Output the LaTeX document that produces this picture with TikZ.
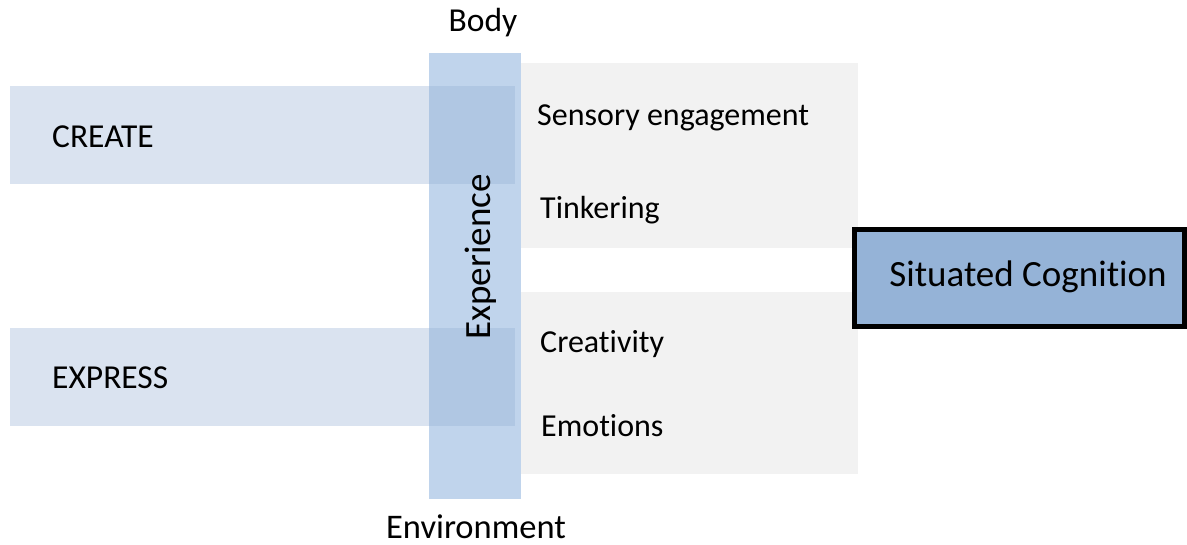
\documentclass[tikz,border=0pt]{standalone}
\usepackage{fontspec}
\setmainfont{Carlito}[RawFeature=-liga]
\usetikzlibrary{positioning}

\definecolor{expblue}{HTML}{C0D4EC}
\definecolor{barblue}{HTML}{95AFD4}
\definecolor{panelgray}{HTML}{F2F2F2}
\definecolor{cogblue}{HTML}{95B3D7}

\tikzset{
  box/.style={inner sep=0pt, outer sep=0pt, anchor=north west},
  panel/.style={box, fill=panelgray, minimum width=337pt},
  bar/.style={box, fill=barblue, fill opacity=0.35, minimum width=505pt, minimum height=98pt},
  txt/.style={anchor=base west, inner sep=0pt, font=\fontsize{32}{38}\selectfont},
  bigtxt/.style={txt, font=\fontsize{33.5}{40}\selectfont},
}

\begin{document}
\begin{tikzpicture}[x=1pt, y=-1pt]
\useasboundingbox (0,0) rectangle (1187,545);

\node[panel, minimum height=185pt] (top) at (521,63) {};
\node[panel, minimum height=182pt] (bot) at (521,292) {};
\node[box, fill=expblue, minimum width=92pt, minimum height=446pt] (exp) at (429,53) {};

\node[bar] (create) at (10,86) {};
\node[bar] (express) at (10,328) {};

\node[box, draw, line width=5pt, fill=cogblue, minimum width=330pt, minimum height=97pt] (cog) at (854.5,229.5) {};

\node[bigtxt, anchor=base] (body) at (483,32) {Body};
\node[bigtxt, anchor=base, font=\fontsize{34.5}{40}\selectfont] (env) at (476,538) {Environment};
\node[txt, anchor=base, rotate=90, font=\fontsize{37}{44}\selectfont] (explbl) at (490,257) {Experience};

\node[bigtxt] (createlbl) at (52,148) {CREATE};
\node[bigtxt] (expresslbl) at (52,389) {EXPRESS};

\node[txt] (sensory) at (537,126) {Sensory engagement};
\node[txt] (tinker) at (540,219) {Tinkering};
\node[txt] (creat) at (540,353) {Creativity};
\node[txt] (emot) at (541,437) {Emotions};

\node[txt, anchor=base, font=\fontsize{37}{44}\selectfont] (coglbl) at (1028,287) {Situated Cognition};
\end{tikzpicture}
\end{document}
